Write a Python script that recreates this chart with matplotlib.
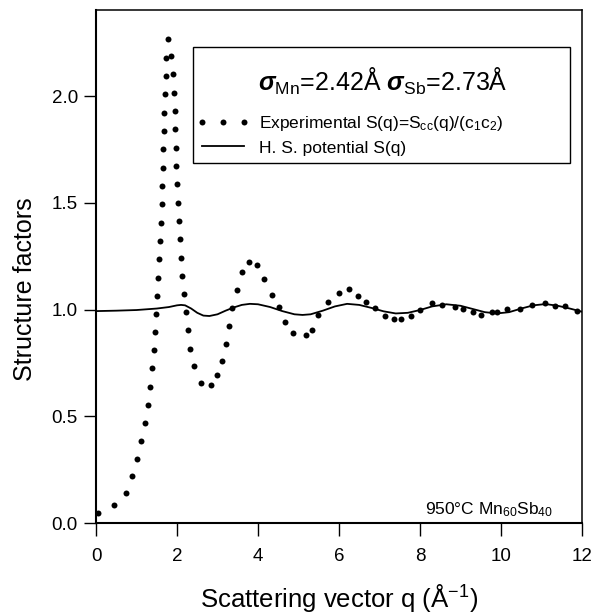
import matplotlib
matplotlib.use("Agg")
import matplotlib.pyplot as plt
from matplotlib.patches import Rectangle

plt.rcParams['font.family'] = ['Liberation Sans', 'DejaVu Sans']
plt.rcParams['mathtext.fontset'] = 'custom'
plt.rcParams['mathtext.rm'] = 'Liberation Sans'
plt.rcParams['mathtext.it'] = 'Liberation Sans:italic'
plt.rcParams['mathtext.bf'] = 'Liberation Sans:bold'
plt.rcParams['mathtext.bfit'] = 'Liberation Sans:bold:italic'

# Experimental S(q) = Scc(q)/(c1 c2)
exp_q = [0.041, 0.453, 0.749, 0.881, 1.012, 1.111, 1.202, 1.292, 1.342, 1.383,
         1.424, 1.457, 1.481, 1.506, 1.523, 1.547, 1.572, 1.597, 1.621, 1.638,
         1.654, 1.663, 1.671, 1.687, 1.704, 1.728, 1.728, 1.786, 1.852, 1.910,
         1.926, 1.942, 1.959, 1.975, 1.984, 2.000, 2.025, 2.049, 2.066, 2.099,
         2.132, 2.165, 2.214, 2.263, 2.329, 2.420, 2.584, 2.840, 2.988, 3.119,
         3.202, 3.276, 3.366, 3.473, 3.597, 3.786, 3.967, 4.148, 4.346, 4.527,
         4.675, 4.872, 5.185, 5.325, 5.490, 5.728, 6.000, 6.247, 6.461, 6.667,
         6.897, 7.136, 7.350, 7.531, 7.778, 8.008, 8.296, 8.551, 8.872, 9.053,
         9.309, 9.498, 9.770, 9.910, 10.156, 10.477, 10.757, 11.078, 11.325, 11.572,
         11.868]
exp_s = [0.048, 0.083, 0.142, 0.220, 0.301, 0.386, 0.470, 0.555, 0.639, 0.725,
         0.809, 0.893, 0.979, 1.064, 1.150, 1.236, 1.321, 1.407, 1.493, 1.579,
         1.665, 1.751, 1.837, 1.923, 2.009, 2.095, 2.181, 2.267, 2.188, 2.102,
         2.017, 1.931, 1.845, 1.759, 1.673, 1.587, 1.501, 1.415, 1.329, 1.243,
         1.157, 1.072, 0.987, 0.903, 0.817, 0.734, 0.655, 0.647, 0.694, 0.758,
         0.840, 0.925, 1.009, 1.090, 1.175, 1.221, 1.211, 1.143, 1.068, 1.014,
         0.943, 0.890, 0.883, 0.903, 0.975, 1.034, 1.079, 1.095, 1.064, 1.036,
         1.006, 0.970, 0.954, 0.954, 0.970, 1.000, 1.029, 1.022, 1.014, 1.003,
         0.990, 0.975, 0.990, 0.987, 1.003, 1.004, 1.020, 1.033, 1.018, 1.015,
         0.995]

# Hard-sphere potential S(q)
hs_q = [0.0, 0.5, 1.0, 1.5, 1.8, 2.0, 2.1, 2.2, 2.35, 2.5, 2.65, 2.8, 3.0, 3.2,
        3.4, 3.6, 3.8, 4.0, 4.3, 4.6, 4.9, 5.1, 5.3, 5.6, 5.9, 6.2, 6.5, 6.8,
        7.1, 7.4, 7.7, 8.0, 8.3, 8.65, 9.0, 9.3, 9.6, 9.9, 10.2, 10.5, 10.8,
        11.1, 11.4, 11.7, 12.0]
hs_s = [0.993, 0.995, 0.998, 1.005, 1.012, 1.020, 1.022, 1.020, 1.005, 0.985,
        0.972, 0.970, 0.978, 0.995, 1.010, 1.022, 1.027, 1.025, 1.012, 0.993,
        0.978, 0.975, 0.978, 0.995, 1.015, 1.027, 1.022, 1.008, 0.992, 0.982,
        0.985, 0.998, 1.015, 1.025, 1.018, 1.003, 0.988, 0.982, 0.988, 1.005,
        1.020, 1.026, 1.018, 1.005, 0.990]

xticks = [0, 2, 4, 6, 8, 10, 12]
yticks = [0.0, 0.5, 1.0, 1.5, 2.0]
ytick_labels = ['0.0', '0.5', '1.0', '1.5', '2.0']

fig = plt.figure(figsize=(5.96, 6.14), dpi=100)
ax = fig.add_axes([96/596, 1-523/614, 486/596, 513/614])

ax.plot(exp_q, exp_s, linestyle='none', marker='o', ms=4.3, color='black',
        markeredgewidth=0, label=r'Experimental S(q)=S$_{\rm cc}$(q)/(c$_{\rm 1}$c$_{\rm 2}$)',
        clip_on=False, zorder=3)
ax.plot(hs_q, hs_s, color='black', lw=1.3, label='H. S. potential S(q)')

ax.set_xlim(0, 12)
ax.set_ylim(0, 2.404)
ax.set_xticks(xticks)
ax.set_yticks(yticks)
ax.set_yticklabels(ytick_labels)
ax.tick_params(direction='out', length=9, width=1, labelsize=13.5)
ax.tick_params(axis='x', pad=9)
ax.tick_params(axis='y', pad=4)

for side in ['left', 'bottom']:
    ax.spines[side].set_linewidth(1.5)
for side in ['top', 'right']:
    ax.spines[side].set_linewidth(1.1)

ax.set_xlabel(r'Scattering vector q ($\rm\AA^{-1}$)', fontsize=18.5, labelpad=12)
ax.set_ylabel('Structure factors', fontsize=18)
ax.yaxis.set_label_coords(-0.122, 0.455)

# Legend box
box = Rectangle((0.1996, 0.702), 0.7755, 0.226, transform=ax.transAxes,
                facecolor='white', edgecolor='black', lw=1.0, zorder=4)
ax.add_patch(box)
ax.text(0.59, 0.860, r'$\boldsymbol{\sigma}_{\rm Mn}$=2.42Å $\boldsymbol{\sigma}_{\rm Sb}$=2.73Å',
        transform=ax.transAxes, ha='center', va='center', fontsize=18, zorder=5)
leg = ax.legend(loc='center left', bbox_to_anchor=(0.2078, 0.757),
                borderaxespad=0, borderpad=0, fontsize=12.5, numpoints=3,
                handlelength=3.0, handletextpad=0.6, labelspacing=0.44,
                frameon=False)
leg.set_zorder(6)

ax.text(0.94, 0.016, r'950°C Mn$_{\rm 60}$Sb$_{\rm 40}$', transform=ax.transAxes,
        ha='right', va='baseline', fontsize=12.5)

fig.savefig('out.png', dpi=100)
